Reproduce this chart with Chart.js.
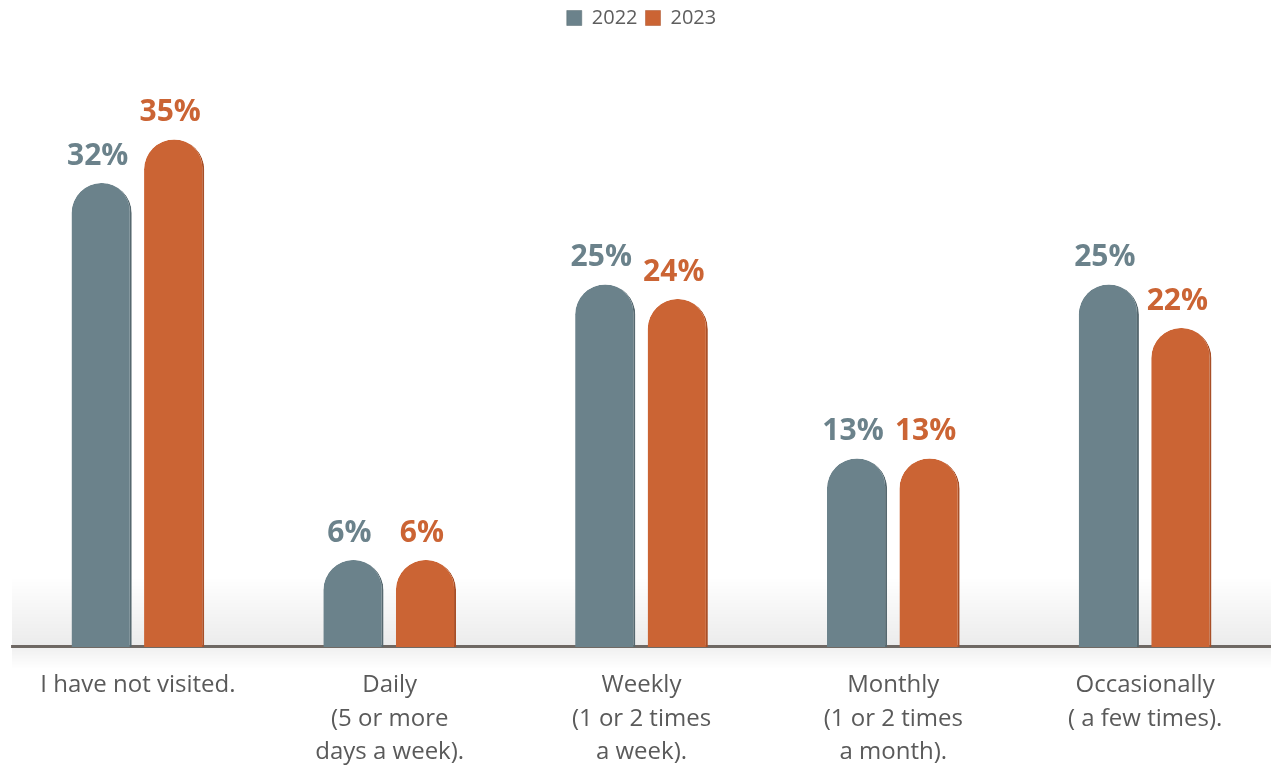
<!DOCTYPE html>
<html>
<head>
<meta charset="utf-8">
<script src="https://cdn.jsdelivr.net/npm/chart.js@4"></script>
<style>
  html, body { margin: 0; padding: 0; background: #fff; overflow: hidden; }
  #wrap { width: 1271px; height: 783px; }
</style>
</head>
<body>
<div id="wrap"><canvas id="myChart"></canvas></div>
<script>
var categories = [
    ['I have not visited.'],
    ['Daily', '(5 or more', 'days a week).'],
    ['Weekly', '(1 or 2 times', 'a week).'],
    ['Monthly', '(1 or 2 times', 'a month).'],
    ['Occasionally', '( a few times).']
];
var years = ['2022', '2023'];
var values2022 = [32, 6, 25, 13, 25];
var values2023 = [35, 6, 24, 13, 22];

var grey = '#6b828b';
var orange = '#cb6434';

// soft grey glow along the baseline
var baseShadow = {
    id: 'baseShadow',
    beforeDatasetsDraw: function (chart) {
        var ctx = chart.ctx;
        var area = chart.chartArea;
        var y = chart.scales.x.top;
        ctx.save();
        var g = ctx.createLinearGradient(0, y - 70, 0, y);
        g.addColorStop(0, 'rgba(0,0,0,0)');
        g.addColorStop(1, 'rgba(0,0,0,0.08)');
        ctx.fillStyle = g;
        ctx.fillRect(area.left, y - 70, area.right - area.left, 70);
        var g2 = ctx.createLinearGradient(0, y, 0, y + 22);
        g2.addColorStop(0, 'rgba(0,0,0,0.06)');
        g2.addColorStop(1, 'rgba(0,0,0,0)');
        ctx.fillStyle = g2;
        ctx.fillRect(area.left, y, area.right - area.left, 22);
        ctx.restore();
    }
};

// percentage labels above the bars
var valueLabels = {
    id: 'valueLabels',
    afterDatasetsDraw: function (chart) {
        var ctx = chart.ctx;
        ctx.save();
        ctx.font = 'bold 30px "Open Sans", sans-serif';
        ctx.textAlign = 'center';
        ctx.textBaseline = 'alphabetic';
        chart.data.datasets.forEach(function (ds, i) {
            var meta = chart.getDatasetMeta(i);
            ctx.fillStyle = ds.backgroundColor;
            meta.data.forEach(function (bar, j) {
                ctx.fillText(ds.data[j] + '%', bar.x - 4, bar.y - 18);
            });
        });
        ctx.restore();
    }
};

var chartContext = document.getElementById('myChart').getContext('2d');
new Chart(chartContext, {
    type: 'bar',
    data: {
        labels: categories,
        datasets: [{
            label: years[0],
            data: values2022,
            backgroundColor: grey,
            borderColor: '#56686f',
            borderWidth: { top: 0, left: 0, bottom: 0, right: 2 },
            borderRadius: { topLeft: 30, topRight: 30 },
            borderSkipped: 'bottom',
            barPercentage: 0.83,
            categoryPercentage: 0.576
        }, {
            label: years[1],
            data: values2023,
            backgroundColor: orange,
            borderColor: '#a84f27',
            borderWidth: { top: 0, left: 0, bottom: 0, right: 2 },
            borderRadius: { topLeft: 30, topRight: 30 },
            borderSkipped: 'bottom',
            barPercentage: 0.83,
            categoryPercentage: 0.576
        }]
    },
    options: {
        responsive: true,
        maintainAspectRatio: false,
        animation: false,
        layout: { padding: { left: 12, right: 0, top: 0, bottom: 0 } },
        scales: {
            x: {
                grid: { display: false },
                border: { display: true, color: '#77706b', width: 3 },
                ticks: {
                    color: '#5a5a5a',
                    font: { family: 'Open Sans', size: 24, lineHeight: 1.39 },
                    padding: 14,
                    maxRotation: 0,
                    autoSkip: false
                }
            },
            y: {
                display: false,
                min: 0,
                max: 40
            }
        },
        plugins: {
            legend: {
                display: true,
                position: 'top',
                labels: {
                    color: '#5e5e5e',
                    font: { family: 'Open Sans', size: 20 },
                    boxWidth: 15,
                    boxHeight: 15,
                    padding: 8
                }
            },
            tooltip: { enabled: false }
        }
    },
    plugins: [baseShadow, valueLabels, {
        id: 'legendGap',
        beforeInit: function (chart) {
            // extra room between legend and bars
            var fit = chart.legend.fit;
            chart.legend.fit = function () {
                fit.bind(chart.legend)();
                this.height += 29;
            };
        }
    }]
});
</script>
</body>
</html>
